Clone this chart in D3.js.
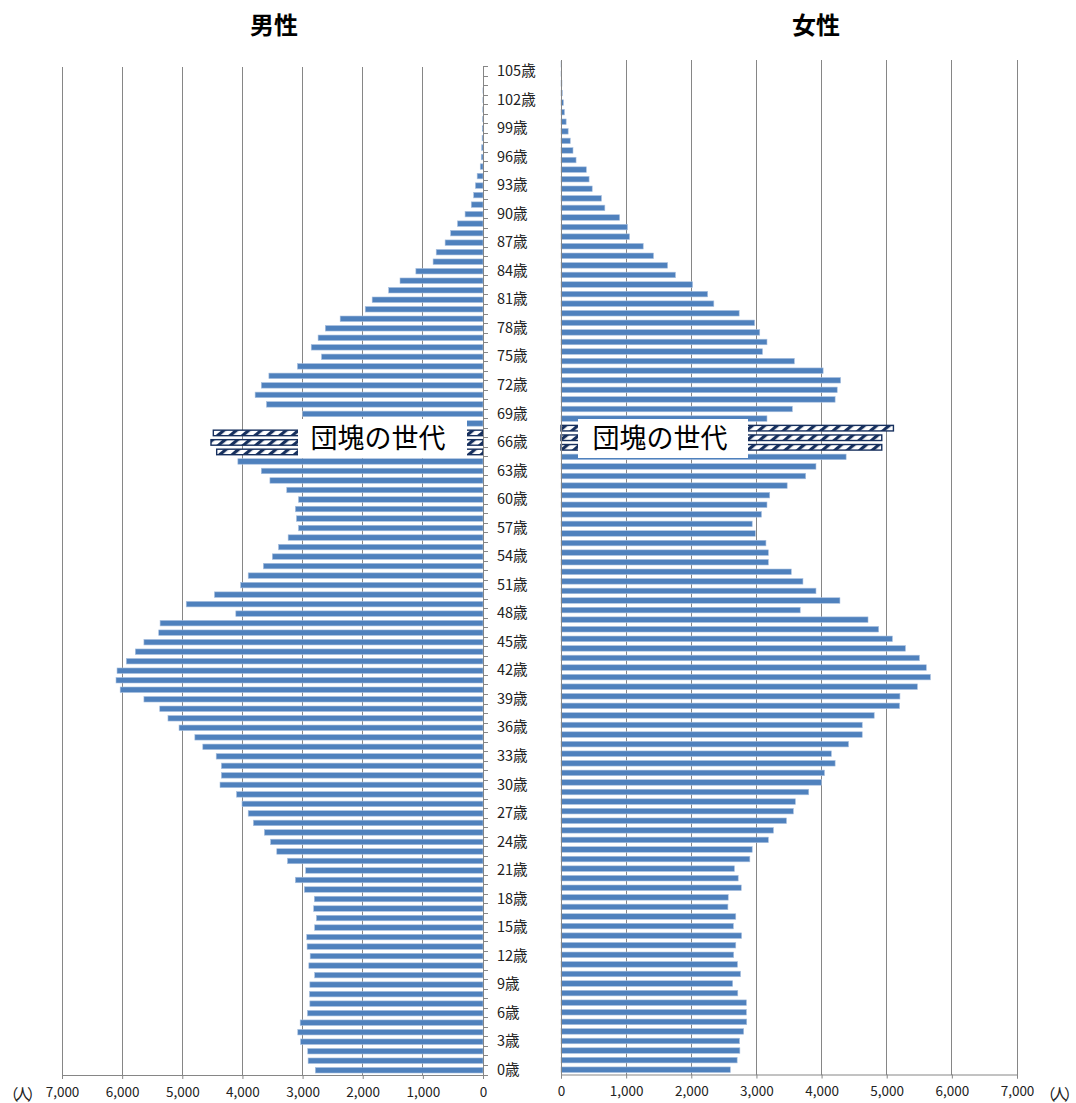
<!DOCTYPE html>
<html>
<head>
<meta charset="utf-8">
<script src="https://cdn.jsdelivr.net/npm/d3@7"></script>
<style>
  html, body { margin: 0; padding: 0; background: #fff; }
  svg { display: block; }
  text { font-family: "Noto Sans CJK JP", "Noto Sans", sans-serif; }
</style>
</head>
<body>
<svg id="chart" width="1076" height="1103"></svg>
<script>
// ---- data (index = age) ----
const ages = d3.range(0, 106);
const male = [
  2788, 2908, 2914, 3034, 3080, 3040, 2919, 2879, 2885, 2879,
  2799, 2896, 2874, 2925, 2931, 2799, 2770, 2816, 2805, 2971,
  3120, 2948, 3251, 3429, 3532, 3635, 3818, 3904, 4007, 4098,
  4373, 4350, 4350, 4436, 4659, 4791, 5054, 5238, 5375, 5638,
  6033, 6102, 6085, 5930, 5781, 5638, 5392, 5369, 4110, 4934,
  4465, 4030, 3904, 3652, 3503, 3400, 3240, 3068, 3102, 3120,
  3068, 3263, 3543, 3686, 4076, 4428, 4523, 4484, 2600, 2999,
  3600, 3789, 3686, 3560, 3085, 2685, 2856, 2742, 2622, 2375,
  1958, 1843, 1568, 1380, 1116, 830, 778, 630, 538, 424,
  298, 195, 155, 126, 97, 46, 29, 23, 15, 12,
  6, 4, 2, 1, 0, 0
];
const female = [
  2599, 2704, 2746, 2741, 2804, 2851, 2846, 2846, 2714, 2635,
  2756, 2709, 2651, 2683, 2772, 2646, 2683, 2562, 2567, 2767,
  2720, 2662, 2899, 2935, 3183, 3261, 3461, 3567, 3598, 3803,
  3998, 4045, 4208, 4150, 4414, 4624, 4624, 4808, 5197, 5203,
  5471, 5671, 5608, 5502, 5287, 5087, 4876, 4713, 3672, 4282,
  3914, 3714, 3535, 3183, 3183, 3146, 2983, 2935, 3077, 3162,
  3204, 3472, 3756, 3914, 4377, 4924, 4924, 5103, 3162, 3551,
  4208, 4240, 4292, 4024, 3582, 3093, 3162, 3051, 2972, 2735,
  2346, 2251, 2020, 1757, 1636, 1420, 1262, 1052, 1020, 900,
  673, 621, 479, 431, 389, 231, 184, 142, 110, 79,
  53, 37, 20, 15, 10, 5
];
const boomAges = [65, 66, 67];
const xTicks = [0, 1000, 2000, 3000, 4000, 5000, 6000, 7000];
const ageLabelTicks = d3.range(0, 106, 3);
const titles = { male: "男性", female: "女性" };
const boxLabel = "団塊の世代";
const unitLabel = "（人）";

// ---- setup ----
const svg = d3.select("#chart");
const gridColor = "#868686";
const barColor = "#4f81bd";
const navy = "#17305e";
const fmt = d3.format(",");

const defs = svg.append("defs");
const pat = defs.append("pattern")
  .attr("id", "hatch").attr("patternUnits", "userSpaceOnUse")
  .attr("width", 8).attr("height", 8)
  .attr("patternTransform", "rotate(50)");
pat.append("rect").attr("width", 8).attr("height", 8).attr("fill", "#ffffff");
pat.append("rect").attr("width", 3.2).attr("height", 8).attr("fill", navy);

const agesDesc = ages.slice().reverse();

// Left (male) panel
const xL = d3.scaleLinear().domain([0, 7000]).range([483, 62]);
const yL = d3.scaleBand().domain(agesDesc).range([66.7, 1075]).paddingInner(0.42).paddingOuter(0.21);
// Right (female) panel
const xR = d3.scaleLinear().domain([0, 7000]).range([561, 1017]);
const yR = d3.scaleBand().domain(agesDesc).range([59.5, 1074.5]).paddingInner(0.42).paddingOuter(0.21);

function panel(x, y, values, top, bottom) {
  const g = svg.append("g");
  g.selectAll("line.grid").data(xTicks.filter(d => d > 0)).enter().append("line")
    .attr("x1", d => x(d)).attr("x2", d => x(d))
    .attr("y1", top).attr("y2", bottom)
    .attr("stroke", gridColor).attr("stroke-width", 1).attr("shape-rendering", "crispEdges");
  g.selectAll("rect.bar").data(ages).enter().append("rect")
    .attr("x", a => Math.min(x(0), x(values[a])))
    .attr("width", a => Math.abs(x(values[a]) - x(0)))
    .attr("y", a => y(a))
    .attr("height", y.bandwidth())
    .attr("fill", a => boomAges.includes(a) ? "url(#hatch)" : barColor)
    .attr("stroke", a => boomAges.includes(a) ? navy : "#a9c0df")
    .attr("stroke-width", a => boomAges.includes(a) ? 1.4 : 0.6);
  const ax = g.append("g").attr("transform", `translate(0,${bottom})`)
    .call(d3.axisBottom(x).tickValues(xTicks).tickFormat(fmt).tickSize(4).tickPadding(8));
  ax.select(".domain").attr("stroke", gridColor);
  ax.selectAll(".tick line").attr("stroke", gridColor);
  ax.selectAll(".tick text").attr("font-size", 13.5).attr("fill", "#222")
    .style("font-family", '"Noto Sans CJK JP", sans-serif');
  g.append("line").attr("x1", x(0)).attr("x2", x(0)).attr("y1", top).attr("y2", bottom)
    .attr("stroke", gridColor).attr("stroke-width", 1).attr("shape-rendering", "crispEdges");
  return g;
}

const gL = panel(xL, yL, male, 66.7, 1075);
const gR = panel(xR, yR, female, 59.5, 1074.5);

// left category ticks at band boundaries
const stepL = yL.step();
const bounds = ages.map(a => yL(a) - (stepL - yL.bandwidth()) / 2).concat([1075]);
gL.selectAll("line.cat").data(bounds).enter().append("line")
  .attr("x1", 483).attr("x2", 488).attr("y1", d => d).attr("y2", d => d)
  .attr("stroke", gridColor).attr("stroke-width", 1).attr("shape-rendering", "crispEdges");

// age labels
const ay = svg.append("g").attr("transform", "translate(483,0)")
  .call(d3.axisRight(yL).tickValues(ageLabelTicks).tickFormat(d => d + "歳").tickSize(0).tickPadding(14));
ay.select(".domain").remove();
ay.selectAll(".tick text").attr("font-size", 14.5).attr("fill", "#222")
  .style("font-family", '"Noto Sans CJK JP", sans-serif');

// unit labels
svg.append("text").attr("x", 3).attr("y", 1100).attr("font-size", 15.5)
  .attr("letter-spacing", -3.5).attr("fill", "#222").text(unitLabel);
svg.append("text").attr("x", 1076).attr("y", 1100).attr("text-anchor", "end").attr("font-size", 15.5)
  .attr("letter-spacing", -3.5).attr("fill", "#222").text(unitLabel);

// titles
svg.append("text").attr("x", 274).attr("y", 34).attr("text-anchor", "middle")
  .attr("font-size", 24).attr("font-weight", 700).attr("fill", "#000").text(titles.male);
svg.append("text").attr("x", 816).attr("y", 34).attr("text-anchor", "middle")
  .attr("font-size", 24).attr("font-weight", 700).attr("fill", "#000").text(titles.female);

// label boxes
function labelBox(x0, x1, y0, y1, tx) {
  svg.append("rect").attr("x", x0).attr("y", y0).attr("width", x1 - x0).attr("height", y1 - y0).attr("fill", "#fff");
  svg.append("text").attr("x", tx).attr("y", (y0 + y1) / 2).attr("dy", "0.36em")
    .attr("text-anchor", "middle").attr("font-size", 27).attr("fill", "#000").text(boxLabel);
}
labelBox(298, 467, 419, 458, 378);
labelBox(578, 748, 419, 458, 660);
</script>
</body>
</html>
